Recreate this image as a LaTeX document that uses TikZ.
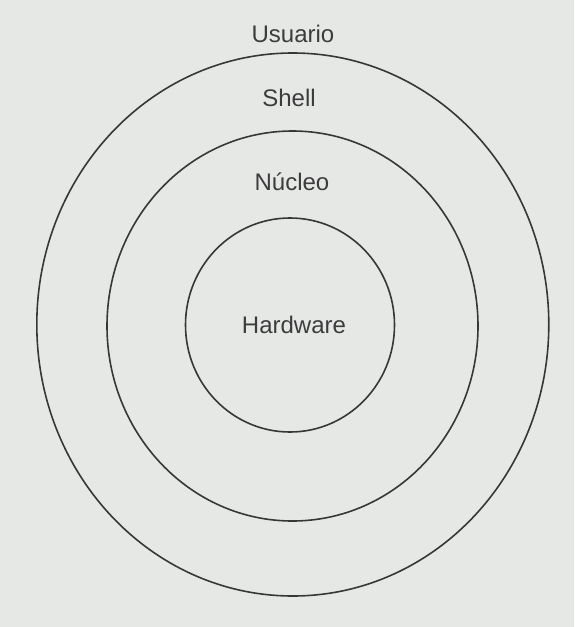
\documentclass[tikz,border=0pt]{standalone}
\usepackage{fontspec}
\setmainfont{Liberation Sans}
\definecolor{bgc}{RGB}{230,232,230}
\definecolor{ink}{RGB}{55,55,55}
\definecolor{txt}{RGB}{60,60,60}
\begin{document}
\begin{tikzpicture}[x=1pt,y=-1pt,
  ring/.style={draw=ink,line width=1.6pt,ellipse,inner sep=0pt},
  lbl/.style={text=txt,font=\fontsize{24}{28}\selectfont,inner sep=0pt}]
\fill[bgc] (0,0) rectangle (574,627);
\useasboundingbox (0,0) rectangle (574,627);
\draw[draw=ink,line width=1.6pt] (292.8,324.5) ellipse [x radius=256, y radius=271.5];
\draw[draw=ink,line width=1.6pt] (292.5,326) ellipse [x radius=185.5, y radius=195];
\draw[draw=ink,line width=1.6pt] (290,325) ellipse [x radius=104.5, y radius=107];
\node[lbl] (usuario) at (293,34) {Usuario};
\node[lbl] (shell) at (289,98) {Shell};
\node[lbl] (nucleo) at (292,182) {Núcleo};
\node[lbl] (hardware) at (294,325) {Hardware};
\end{tikzpicture}
\end{document}
